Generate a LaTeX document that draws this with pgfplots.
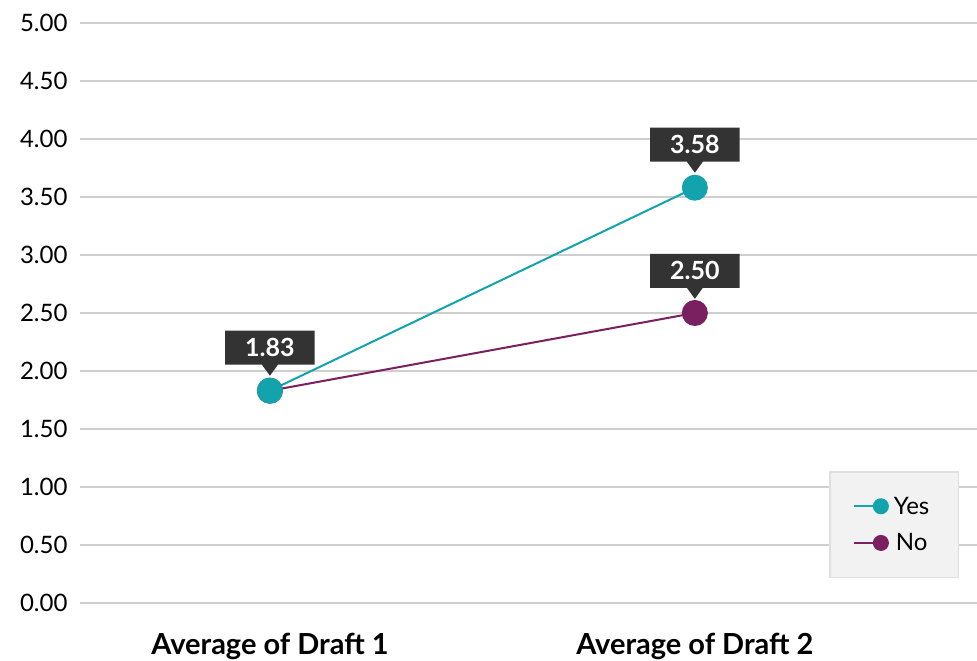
\documentclass[border=0pt]{standalone}
\usepackage{pgfplots}
\pgfplotsset{compat=1.18}
\usepackage{fontspec}
\setmainfont{Lato}
\usetikzlibrary{shapes.callouts}
\definecolor{teal}{HTML}{12A3AD}
\definecolor{plum}{HTML}{7A1F60}
\definecolor{gridc}{HTML}{CFCFCF}
\definecolor{lbl}{HTML}{333333}
\begin{document}
\begin{tikzpicture}
\begin{axis}[
  scale only axis, width=897pt, height=580pt,
  xmin=-0.447, xmax=1.664, ymin=0, ymax=5,
  axis line style={draw=none},
  ytick={0,0.5,...,5}, xtick={0,1},
  xticklabels={Average of Draft 1, Average of Draft 2},
  ymajorgrids, grid style={gridc, line width=1.6pt},
  major tick length=0pt,
  yticklabel style={font=\fontsize{24}{28}\selectfont, xshift=-9pt},
  xticklabel style={font=\fontsize{29}{33}\selectfont\bfseries, yshift=-27pt},
  /pgf/number format/.cd, fixed, fixed zerofill, precision=2, assume math mode=true,
  /pgfplots/.cd,
  reverse legend,
  legend style={at={(rel axis cs:0.98,0.043)}, anchor=south east, fill=gray!10!white, draw=gray!25, line width=1.5pt,
    font=\fontsize{24}{28}\selectfont, inner xsep=23pt, inner ysep=23pt, row sep=14pt,
    nodes={inner xsep=6pt}},
  legend image code/.code={\draw[#1, mark size=7pt, mark repeat=3, mark phase=3] plot coordinates {(0pt,0pt) (13pt,0pt) (27pt,0pt)};},
  every node near coord/.append style={rectangle callout, fill=lbl, text=white, font=\fontsize{25}{28}\selectfont\bfseries,
    callout relative pointer={(0pt,-11pt)}, callout pointer width=16pt, anchor=south, yshift=25pt,
    minimum height=34pt, inner ysep=0pt, inner xsep=20pt},
]
\addplot[plum, line width=2pt, mark=*, mark size=12pt, mark options={fill=plum, draw=plum}] coordinates {(0,1.83) (1,2.50)};
\addlegendentry{No}
\addplot[teal, line width=2pt, mark=*, mark size=12pt, mark options={fill=teal, draw=teal},
  nodes near coords={\pgfmathprintnumber[fixed,fixed zerofill,precision=2]{\pgfplotspointmeta}}] coordinates {(0,1.83) (1,3.58)};
\addlegendentry{Yes}
\addplot[draw=none, forget plot, nodes near coords={\pgfmathprintnumber[fixed,fixed zerofill,precision=2]{\pgfplotspointmeta}}] coordinates {(1,2.50)};
\coordinate (bl) at (rel axis cs:0,0);
\coordinate (tr) at (rel axis cs:1,1);
\end{axis}
\pgfresetboundingbox
\path[use as bounding box] ([xshift=-80pt,yshift=-58pt]bl) rectangle ([yshift=23pt]tr);
\end{tikzpicture}
\end{document}
